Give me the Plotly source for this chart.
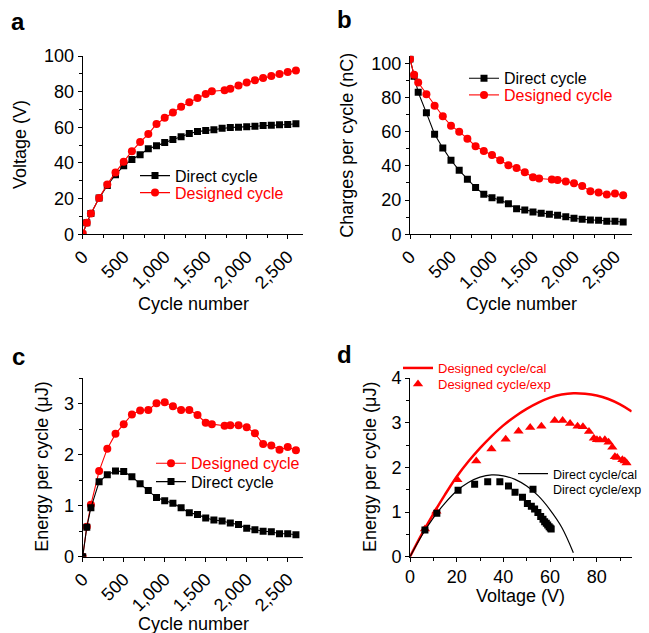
import plotly.graph_objects as go

W, H = 649, 633
RED = "#ff0000"
BLK = "#000000"
FONT = "Liberation Sans, Arial, Helvetica, sans-serif"

# ---------------- data ----------------
cycles_direct = [0, 50, 100, 200, 300, 400, 500, 600, 700, 800, 900, 1000, 1100, 1200, 1300,
                 1400, 1500, 1600, 1700, 1800, 1900, 2000, 2100, 2200, 2300, 2400, 2500, 2600]
cycles_designed = [0, 50, 100, 200, 300, 400, 500, 600, 700, 800, 900, 1000, 1100, 1200, 1300,
                   1400, 1500, 1575, 1730, 1800, 1900, 2000, 2100, 2200, 2300, 2400, 2500, 2600]

voltage_direct = [0, 6.5, 11.6, 20.3, 27.4, 33.4, 38.4, 42.0, 44.6, 48.0, 49.6, 51.5, 53.2, 54.7,
                  56.5, 57.6, 58.2, 58.6, 59.5, 59.9, 60.1, 60.3, 60.6, 61.0, 61.2, 61.4, 61.6, 62.0]
voltage_designed = [0.5, 6.5, 11.6, 20.3, 28.0, 34.7, 40.7, 46.6, 51.7, 56.2, 61.9, 65.3, 68.3, 71.5,
                    74.1, 76.5, 78.7, 80.2, 80.8, 81.7, 83.4, 85.1, 86.4, 87.7, 88.8, 89.9, 91.0, 91.8]

charge_direct = [102.5, 92.4, 83.0, 71.0, 58.5, 50.5, 43.3, 37.4, 32.2, 27.3, 23.4, 21.4, 20.1, 17.9,
                 15.0, 14.2, 13.1, 12.3, 11.7, 11.1, 10.3, 9.4, 8.8, 8.4, 8.2, 7.6, 7.6, 7.2]
charge_designed = [102.5, 93.2, 88.7, 81.9, 75.1, 69.0, 63.5, 60.0, 55.9, 51.5, 48.7, 46.4, 43.3, 40.4,
                   38.8, 36.3, 33.3, 32.6, 32.0, 31.8, 30.8, 29.8, 28.3, 25.2, 24.4, 23.2, 23.8, 22.8]

energy_direct = [0, 0.58, 0.96, 1.47, 1.61, 1.68, 1.67, 1.57, 1.43, 1.30, 1.16, 1.10, 1.05, 0.96,
                 0.86, 0.83, 0.76, 0.72, 0.70, 0.66, 0.63, 0.56, 0.53, 0.50, 0.49, 0.45, 0.45, 0.43]
energy_designed = [0, 0.59, 1.02, 1.68, 2.12, 2.41, 2.60, 2.79, 2.87, 2.88, 3.01, 3.03, 2.95, 2.88,
                   2.88, 2.78, 2.63, 2.60, 2.57, 2.58, 2.58, 2.54, 2.42, 2.21, 2.18, 2.10, 2.15, 2.09]

# panel d: calculated curves
cal_v_designed = [0, 5, 10, 15, 20, 25, 30, 35, 40, 45, 50, 55, 60, 65, 70, 75, 80, 85, 90, 95]
cal_e_designed = [0, 0.50, 0.96, 1.39, 1.79, 2.13, 2.43, 2.70, 2.94, 3.14, 3.31, 3.45, 3.56, 3.63,
                  3.66, 3.65, 3.61, 3.53, 3.41, 3.25]
cal_v_direct = [0, 5, 10, 15, 20, 25, 30, 35, 40, 45, 50, 55, 60, 65, 70]
cal_e_direct = [0, 0.47, 0.87, 1.20, 1.47, 1.66, 1.78, 1.83, 1.81, 1.73, 1.58, 1.36, 1.05, 0.66, 0.09]

# panel d: experimental points
exp_v_designed = [6.4, 11.3, 20.3, 28.4, 34.9, 41.0, 46.5, 51.5, 56.3, 62.0, 65.4, 68.6, 71.8, 74.1,
                  76.7, 78.8, 80.1, 81.4, 83.5, 85.1, 86.7, 87.8, 88.8, 91.0, 92.0, 92.8]
exp_e_designed = [0.62, 1.02, 1.72, 2.14, 2.41, 2.63, 2.81, 2.89, 2.92, 3.05, 3.05, 2.98, 2.92, 2.91,
                  2.80, 2.65, 2.62, 2.61, 2.62, 2.56, 2.45, 2.24, 2.22, 2.17, 2.14, 2.10]
exp_v_direct = [6.4, 11.5, 20.6, 27.7, 33.3, 38.5, 42.2, 45.0, 48.2, 50.3, 52.0, 53.4, 54.8, 56.0,
                57.0, 57.7, 58.4, 59.0, 59.6, 60.1, 60.5]
exp_e_direct = [0.60, 0.97, 1.49, 1.62, 1.68, 1.68, 1.58, 1.44, 1.33, 1.19, 1.13, 1.07, 0.99, 0.90,
                0.84, 0.78, 0.75, 0.71, 0.67, 0.64, 0.62]

# ---------------- helpers ----------------
def fx(px):
    return px / W

def fy(py):
    return 1 - py / H

fig = go.Figure()

def lm(x, y, color, symbol, size, name, xa, ya, legend):
    fig.add_trace(go.Scatter(
        x=x, y=y, mode="lines+markers", name=name, xaxis=xa, yaxis=ya, legend=legend,
        line=dict(color=color, width=1.1),
        marker=dict(color=color, symbol=symbol, size=size, line=dict(width=0)),
    ))

# panel a
lm(cycles_direct, voltage_direct, BLK, "square", 7, "Direct cycle", "x", "y", "legend")
lm(cycles_designed, voltage_designed, RED, "circle", 8, "Designed cycle", "x", "y", "legend2")
# panel b
lm(cycles_direct, charge_direct, BLK, "square", 7, "Direct cycle", "x2", "y2", "legend3")
lm(cycles_designed, charge_designed, RED, "circle", 8, "Designed cycle", "x2", "y2", "legend4")
# panel c
lm(cycles_designed, energy_designed, RED, "circle", 8, "Designed cycle", "x3", "y3", "legend5")
lm(cycles_direct, energy_direct, BLK, "square", 7, "Direct cycle", "x3", "y3", "legend6")
# panel d
fig.add_trace(go.Scatter(x=cal_v_designed, y=cal_e_designed, mode="lines", name="Designed cycle/cal",
                         xaxis="x4", yaxis="y4", legend="legend7",
                         line=dict(color=RED, width=2.5, shape="spline")))
fig.add_trace(go.Scatter(x=exp_v_designed, y=exp_e_designed, mode="markers", name="Designed cycle/exp",
                         xaxis="x4", yaxis="y4", legend="legend8",
                         marker=dict(color=RED, symbol="triangle-up", size=9, line=dict(width=0))))
fig.add_trace(go.Scatter(x=cal_v_direct, y=cal_e_direct, mode="lines", name="Direct cycle/cal",
                         xaxis="x4", yaxis="y4", legend="legend9",
                         line=dict(color=BLK, width=1.2, shape="spline")))
fig.add_trace(go.Scatter(x=exp_v_direct, y=exp_e_direct, mode="markers", name="Direct cycle/exp",
                         xaxis="x4", yaxis="y4", legend="legend10",
                         marker=dict(color=BLK, symbol="square", size=7, line=dict(width=0))))

# ---------------- axes ----------------
TICK = 18

def xax(dom, rng, dtick, minor, fmt=None, angle=-45, anchor="y"):
    d = dict(domain=[fx(dom[0]), fx(dom[1])], range=rng, anchor=anchor,
             showline=True, linecolor="black", linewidth=1, mirror=False,
             showgrid=False, zeroline=False, automargin=False,
             ticks="outside", ticklen=4, tickwidth=1, tickcolor="black",
             dtick=dtick, tick0=0, tickangle=angle,
             tickfont=dict(family=FONT, size=TICK, color="black"),
             minor=dict(dtick=minor, tick0=0, ticks="outside", ticklen=3, tickwidth=1, tickcolor="black", showgrid=False))
    if fmt:
        d["tickformat"] = fmt
    return d

def yax(dom, rng, dtick, minor, anchor):
    return dict(domain=[fy(dom[1]), fy(dom[0])], range=rng, anchor=anchor,
                showline=True, linecolor="black", linewidth=1,
                showgrid=False, zeroline=False, automargin=False,
                ticks="outside", ticklen=4, tickwidth=1, tickcolor="black",
                dtick=dtick, tick0=0,
                tickfont=dict(family=FONT, size=TICK, color="black"),
                minor=dict(dtick=minor, tick0=0, ticks="outside", ticklen=3, tickwidth=1, tickcolor="black", showgrid=False))

layout = dict(
    width=W, height=H, autosize=False, showlegend=True,
    margin=dict(l=0, r=0, t=0, b=0, pad=0, autoexpand=False),
    paper_bgcolor="white", plot_bgcolor="white",
    font=dict(family=FONT, color="black"),
    xaxis=xax((82.7, 303.3), [0, 2690], 500, 250, ",", anchor="y"),
    yaxis=yax((56, 234.3), [0, 100], 20, 10, "x"),
    xaxis2=xax((410, 631.7), [0, 2704], 500, 250, ",", anchor="y2"),
    yaxis2=yax((55.7, 234.3), [0, 104.4], 20, 10, "x2"),
    xaxis3=xax((82.7, 303.3), [0, 2690], 500, 250, ",", anchor="y3"),
    yaxis3=yax((378.3, 556.7), [0, 3.5], 1, 0.5, "x3"),
    xaxis4=xax((410, 631.7), [0, 95], 20, 10, None, angle=0, anchor="y4"),
    yaxis4=yax((378, 556.7), [0, 4.0], 1, 0.5, "x4"),
)

# ---------------- legends (one per entry) ----------------
def leg(text_x, cy, color, size):
    return dict(x=fx(text_x - 40), y=fy(cy), xanchor="left", yanchor="middle",
                bgcolor="rgba(0,0,0,0)", borderwidth=0,
                font=dict(family=FONT, size=size, color=color),
                itemclick=False, itemdoubleclick=False, tracegroupgap=0)

layout["legend"] = leg(175, 175.7, BLK, 16)
layout["legend2"] = leg(175, 192.7, RED, 16)
layout["legend3"] = leg(504, 78.3, BLK, 16)
layout["legend4"] = leg(504, 95.0, RED, 16)
layout["legend5"] = leg(191, 463.3, RED, 16)
layout["legend6"] = leg(191, 481.7, BLK, 16)
layout["legend7"] = leg(438, 368, RED, 13)
layout["legend8"] = leg(438, 384, RED, 13)
layout["legend9"] = leg(553, 474, BLK, 12.5)
layout["legend10"] = leg(553, 489.5, BLK, 12.5)

fig.update_layout(**layout)

# ---------------- titles & panel labels ----------------
ann = []
def title(text, x, y, angle=0, size=18):
    ann.append(dict(text=text, x=fx(x), y=fy(y), xref="paper", yref="paper",
                    xanchor="center", yanchor="middle", showarrow=False, textangle=angle,
                    font=dict(family=FONT, size=size, color="black")))

title("Voltage (V)", 20, 145, -90)
title("Cycle number", 193, 304)
title("Charges per cycle (nC)", 346.7, 145, -90)
title("Cycle number", 521, 304)
title("Energy per cycle (μJ)", 41.7, 467, -90)
title("Cycle number", 193, 624)
title("Energy per cycle (μJ)", 370, 467, -90)
title("Voltage (V)", 520, 596)

for lab, x, y in [("a", 18, 21), ("b", 344, 19), ("c", 18, 356), ("d", 344, 354)]:
    ann.append(dict(text="<b>%s</b>" % lab, x=fx(x), y=fy(y), xref="paper", yref="paper",
                    xanchor="center", yanchor="middle", showarrow=False,
                    font=dict(family=FONT, size=24, color="black")))

fig.update_layout(annotations=ann)
fig.write_html("out.html")
